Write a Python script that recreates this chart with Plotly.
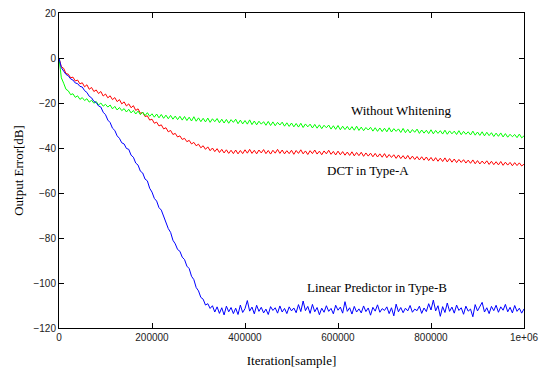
import plotly.graph_objects as go

iterations = [0, 2500] + list(range(5000, 1000001, 5000))

without_whitening = [
    0, -5.2, -8.8, -11.2, -13.9, -14.6, -16.3, -15.9, -17.5, -16.8,
    -18.4, -17.6, -18.9, -18.1, -19.6, -18.8, -20.1, -19.3, -20.9, -20.0,
    -21.4, -20.6, -21.8, -20.9, -22.6, -21.5, -23.1, -22.0, -23.4, -22.5,
    -24.0, -22.8, -24.4, -23.3, -24.9, -23.6, -25.2, -24.0, -25.6, -24.3,
    -25.9, -24.8, -26.3, -24.9, -26.6, -25.1, -26.8, -25.4, -27.0, -25.5,
    -27.2, -25.8, -27.4, -25.9, -27.6, -26.0, -27.8, -26.3, -28.0, -26.1,
    -28.1, -26.6, -28.3, -26.8, -28.4, -26.7, -28.6, -27.0, -28.3, -26.9,
    -28.8, -27.2, -28.9, -27.3, -29.0, -27.4, -28.6, -27.2, -29.2, -27.6,
    -29.3, -27.8, -29.4, -27.5, -29.6, -28.0, -29.7, -28.1, -29.4, -28.3,
    -29.9, -28.2, -30.0, -28.4, -30.1, -28.6, -29.8, -28.5, -30.3, -28.8,
    -30.4, -28.9, -30.6, -29.1, -30.7, -29.0, -30.9, -29.3, -30.6, -29.4,
    -31.1, -29.5, -31.2, -29.7, -31.4, -29.9, -31.0, -29.8, -31.6, -30.1,
    -31.7, -30.0, -31.9, -30.3, -31.8, -30.4, -32.0, -30.5, -32.1, -30.3,
    -32.2, -30.7, -32.3, -30.9, -32.0, -30.8, -32.5, -31.0, -32.6, -31.1,
    -32.7, -31.2, -32.8, -31.0, -32.9, -31.4, -32.6, -31.5, -33.1, -31.3,
    -33.2, -31.7, -33.3, -31.8, -33.0, -31.6, -33.5, -32.0, -33.4, -32.1,
    -33.6, -31.9, -33.7, -32.2, -33.5, -32.3, -33.8, -32.1, -33.9, -32.4,
    -33.7, -32.5, -34.0, -32.3, -34.1, -32.6, -33.9, -32.8, -34.2, -32.5,
    -34.3, -32.9, -34.4, -32.8, -34.6, -33.0, -34.5, -33.2, -34.9, -33.4,
    -34.8, -33.3, -35.1, -33.6, -35.2, -33.9, -35.0, -34.0, -35.4, -33.8,
    -35.5, -34.6,
]

dct_type_a = [
    0, -1.8, -3.9, -4.6, -6.9, -7.2, -8.8, -8.5, -10.2, -9.8,
    -11.5, -11.0, -12.8, -11.9, -13.9, -13.1, -14.9, -14.2, -15.8, -14.9,
    -16.9, -16.0, -17.7, -16.8, -18.5, -17.6, -19.4, -18.5, -20.4, -19.5,
    -21.3, -20.4, -22.1, -21.2, -23.3, -22.6, -24.6, -24.2, -26.0, -25.7,
    -27.6, -27.2, -29.0, -28.5, -30.2, -29.7, -31.5, -31.0, -32.8, -32.2,
    -34.0, -33.5, -35.1, -34.6, -36.2, -35.7, -37.2, -36.6, -38.2, -37.5,
    -39.0, -38.3, -39.9, -39.0, -40.6, -39.5, -41.2, -40.0, -41.6, -40.3,
    -42.0, -40.6, -42.2, -40.8, -42.4, -41.0, -42.5, -40.9, -42.6, -41.1,
    -42.5, -40.8, -42.3, -40.6, -42.4, -41.0, -42.6, -40.9, -42.2, -40.7,
    -42.5, -41.1, -42.7, -41.0, -42.3, -40.6, -42.4, -40.9, -42.6, -41.2,
    -42.5, -41.0, -42.8, -41.1, -42.4, -40.8, -42.6, -41.3, -42.9, -41.2,
    -42.5, -40.9, -42.7, -41.4, -43.0, -41.3, -42.6, -41.0, -42.8, -41.5,
    -43.1, -41.4, -43.0, -41.6, -43.2, -41.8, -43.3, -41.7, -43.5, -42.0,
    -43.4, -41.9, -43.7, -42.2, -43.6, -42.3, -43.9, -42.4, -44.0, -42.6,
    -44.1, -42.5, -44.3, -42.9, -44.2, -43.0, -44.6, -43.1, -44.7, -43.4,
    -44.9, -43.3, -45.0, -43.6, -45.1, -43.8, -45.3, -43.9, -45.4, -44.0,
    -45.6, -44.2, -45.8, -44.3, -45.9, -44.5, -46.0, -44.4, -46.2, -44.7,
    -46.3, -44.9, -46.5, -45.1, -46.4, -45.2, -46.7, -45.4, -46.8, -45.3,
    -47.0, -45.6, -47.1, -45.8, -47.0, -45.7, -47.3, -45.9, -47.4, -46.1,
    -47.5, -46.0, -47.7, -46.3, -47.6, -46.4, -47.9, -46.5, -47.8, -46.6,
    -48.0, -47.2,
]

linear_predictor_type_b = [
    0, -2.8, -4.3, -5.8, -7.3, -7.9, -9.3, -9.8, -11.1, -11.4,
    -12.6, -12.9, -14.5, -15.3, -17.0, -17.7, -19.3, -19.8, -21.3, -21.8,
    -24.1, -25.2, -27.6, -28.7, -31.2, -32.2, -34.6, -35.7, -37.7, -38.2,
    -40.2, -40.6, -43.2, -44.1, -46.7, -47.6, -50.3, -51.1, -53.8, -54.6,
    -57.9, -59.6, -62.4, -63.6, -66.5, -67.6, -70.4, -72.3, -75.8, -77.5,
    -81.0, -82.6, -85.1, -85.9, -88.5, -89.6, -92.5, -93.6, -97.0, -98.5,
    -102.0, -103.5, -106.4, -107.2, -109.8, -109.2, -111.3, -110.1, -112.9, -110.6,
    -113.5, -111.0, -114.2, -110.3, -112.8, -110.9, -113.6, -111.2, -114.0, -109.8,
    -113.1, -111.4, -107.8, -112.5, -110.7, -113.7, -109.9, -112.6, -110.8, -113.3,
    -111.6, -114.0, -110.5, -112.2, -111.0, -113.4, -110.2, -112.9, -111.3, -113.6,
    -110.6, -112.4, -111.1, -113.2, -109.6, -112.7, -108.0, -112.3, -110.4, -113.5,
    -109.5, -112.8, -110.9, -114.1, -111.2, -113.0, -110.1, -112.6, -111.3, -113.7,
    -109.9, -112.1, -110.7, -113.4, -108.3, -112.6, -111.0, -113.8, -110.4, -112.9,
    -111.5, -113.3, -110.2, -112.7, -111.1, -114.3, -110.8, -112.5, -109.7, -113.0,
    -111.4, -112.2, -110.6, -113.6, -111.0, -114.6, -109.4, -112.8, -110.9, -113.2,
    -111.2, -112.4, -110.0, -113.0, -111.6, -112.3, -110.3, -113.5, -111.1, -112.7,
    -109.2, -112.0, -107.6, -112.4, -110.1, -114.8, -110.5, -113.1, -108.9, -112.6,
    -110.7, -113.4, -109.8, -112.2, -111.0, -113.9, -110.3, -112.5, -111.6, -115.0,
    -109.6, -112.4, -110.2, -108.6, -112.9, -111.0, -113.6, -110.4, -112.3, -109.9,
    -113.0, -110.6, -112.1, -109.5, -112.8, -110.8, -113.3, -110.0, -112.6, -111.2,
    -113.4, -111.5,
]

x_tick_values = [0, 200000, 400000, 600000, 800000, 1000000]
x_tick_labels = ["0", "200000", "400000", "600000", "800000", "1e+06"]
y_tick_values = [-120, -100, -80, -60, -40, -20, 0, 20]

series_names = ["DCT in Type-A", "Without Whitening", "Linear Predictor in Type-B"]
label_x = [665000, 736000, 683000]
label_y = [-50.2, -23.2, -102.2]

fig = go.Figure()
for name, vals, col in zip(series_names,
                           [dct_type_a, without_whitening, linear_predictor_type_b],
                           ["#ff0000", "#00ff00", "#0000ff"]):
    fig.add_trace(go.Scatter(x=iterations, y=vals, mode="lines", name=name,
                             line=dict(color=col, width=1)))

for name, lx, ly in zip(series_names, label_x, label_y):
    fig.add_annotation(x=lx, y=ly, xref="x", yref="y", text=name, showarrow=False,
                       font=dict(family="Liberation Serif", size=13, color="#000000"))

axis_common = dict(showgrid=False, zeroline=False, showline=True, linecolor="#000000",
                   linewidth=1, mirror="ticks", ticks="inside", ticklen=5,
                   tickcolor="#000000", tickwidth=1, automargin=False,
                   ticklabeloverflow="allow",
                   tickfont=dict(family="Liberation Sans", size=10, color="#222222"))

fig.update_xaxes(range=[0, 1000000], tickvals=x_tick_values, ticktext=x_tick_labels,
                 title=dict(text="Iteration[sample]",
                            font=dict(family="Liberation Serif", size=13, color="#000000")),
                 **axis_common)
fig.update_yaxes(range=[-120, 20], tickvals=y_tick_values,
                 title=dict(text="Output Error[dB]", standoff=6,
                            font=dict(family="Liberation Serif", size=13, color="#000000")),
                 **axis_common)

fig.update_layout(width=544, height=360, margin=dict(l=51, r=28, t=5, b=40),
                  plot_bgcolor="#ffffff", paper_bgcolor="#ffffff", showlegend=False)

fig.write_html("out.html")
